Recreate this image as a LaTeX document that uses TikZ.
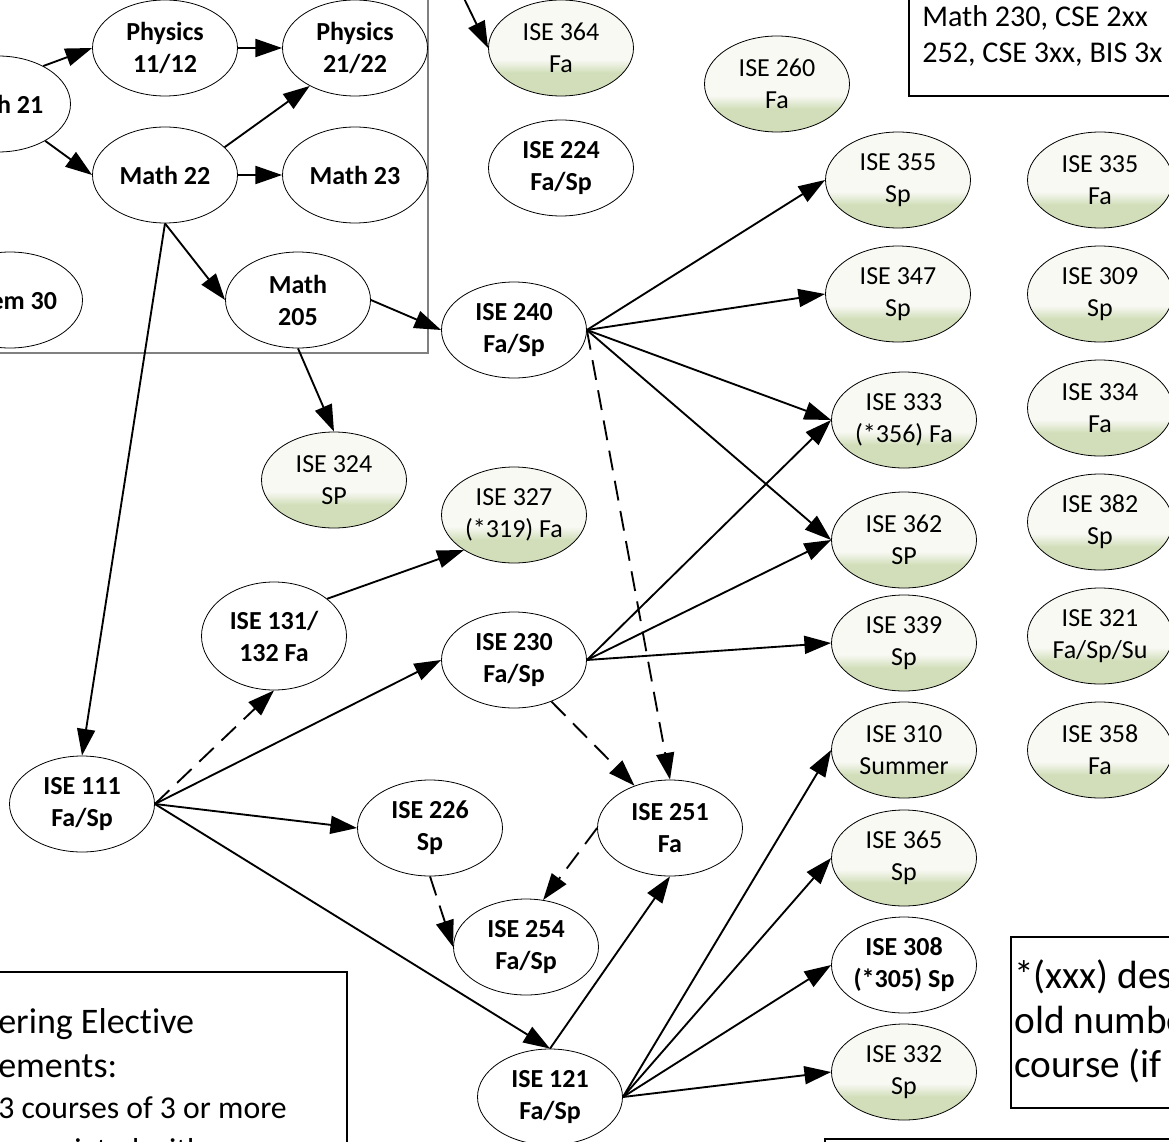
\documentclass[tikz,border=0pt]{standalone}
\usepackage{fontspec}
\setmainfont{Carlito}[Ligatures=NoCommon]
\usetikzlibrary{shapes.geometric,arrows.meta}

\definecolor{elecgreen}{RGB}{209,222,185}
\definecolor{elecwhite}{RGB}{248,249,243}
\pgfdeclareverticalshading{elecshade}{100bp}{color(0bp)=(elecgreen); color(37bp)=(elecgreen); color(44bp)=(elecwhite); color(100bp)=(elecwhite)}

\begin{document}
\begin{tikzpicture}[x=0.75pt,y=0.75pt,yscale=-1,xscale=1,
  oval/.style={ellipse, draw, line width=0.6pt, minimum width=108.75pt, minimum height=72pt, inner sep=0pt, align=center},
  course/.style={oval, fill=white, font=\fontsize{19.5}{24}\selectfont\bfseries},
  elective/.style={oval, shade, shading=elecshade, font=\fontsize{19.5}{24}\selectfont},
  prereq/.style={-{Triangle[length=20pt,width=13.5pt]}, line width=1.4pt},
  optional/.style={prereq, dash pattern=on 15pt off 8pt},
  boxline/.style={anchor=base west, inner sep=0pt}]
\useasboundingbox (0,0) rectangle (1169,1141);
\clip (0,0) rectangle (1169,1141);

%Shape: Rectangle [math block]
\draw [draw=gray, line width=1.2pt] (-60,-60) rectangle (428,353);
%Shape: Rectangle [top right note]
\draw [line width=1.5pt] (909,-60) rectangle (1260,96);
%Shape: Rectangle [old numbers note]
\draw [line width=1.3pt] (1011,937) rectangle (1260,1108);
%Shape: Rectangle [elective requirements]
\draw [line width=1.3pt] (-60,972) rectangle (347,1260);
%Shape: Rectangle [bottom right]
\draw [line width=1.3pt] (825,1139) rectangle (1260,1300);

% Math and science
\node [course] (math21) at (-2,104) {Math 21};
\node [course] (phys1112) at (165,48) {Physics\\11/12};
\node [course] (phys2122) at (355,48) {Physics\\21/22};
\node [course] (math22) at (165,175) {Math 22};
\node [course] (math23) at (355,175) {Math 23};
\node [course] (chem30) at (10,300) {Chem 30};
\node [course] (math205) at (298,300) {Math\\205};

% ISE core
\node [course] (ise224) at (561,168) {ISE 224\\Fa/Sp};
\node [course] (ise240) at (514,330) {ISE 240\\Fa/Sp};
\node [course, minimum height=81pt] (ise131) at (274,636) {ISE 131/\\132 Fa};
\node [course] (ise230) at (514,660) {ISE 230\\Fa/Sp};
\node [course] (ise111) at (82,804) {ISE 111\\Fa/Sp};
\node [course] (ise226) at (430,828) {ISE 226\\Sp};
\node [course] (ise251) at (670,828) {ISE 251\\Fa};
\node [course] (ise254) at (526,947) {ISE 254\\Fa/Sp};
\node [course] (ise121) at (550,1097) {ISE 121\\Fa/Sp};
\node [course] (ise308) at (904,965) {ISE 308\\(*305) Sp};

% Electives
\node [elective] (ise364) at (561,48) {ISE 364\\Fa};
\node [elective] (ise260) at (777,84) {ISE 260\\Fa};
\node [elective] (ise324) at (334,480) {ISE 324\\SP};
\node [elective] (ise327) at (514,515) {ISE 327\\(*319) Fa};
\node [elective] (ise355) at (898,180) {ISE 355\\Sp};
\node [elective] (ise347) at (898,294) {ISE 347\\Sp};
\node [elective] (ise333) at (904,420) {ISE 333\\(*356) Fa};
\node [elective] (ise362) at (904,540) {ISE 362\\SP};
\node [elective] (ise339) at (904,643) {ISE 339\\Sp};
\node [elective] (ise310) at (904,750) {ISE 310\\Summer};
\node [elective] (ise365) at (904,858) {ISE 365\\Sp};
\node [elective] (ise332) at (904,1072) {ISE 332\\Sp};
\node [elective] (ise335) at (1100,180) {ISE 335\\Fa};
\node [elective] (ise309) at (1100,294) {ISE 309\\Sp};
\node [elective] (ise334) at (1100,408) {ISE 334\\Fa};
\node [elective] (ise382) at (1100,522) {ISE 382\\Sp};
\node [elective] (ise321) at (1100,636) {ISE 321\\Fa/Sp/Su};
\node [elective] (ise358) at (1100,750) {ISE 358\\Fa};

% Text Node
\node [boxline, font=\fontsize{22.6}{27}\selectfont] (noteA1) at (922,27) {Math 230, CSE 2xx};
\node [boxline, font=\fontsize{22.6}{27}\selectfont] (noteA2) at (922,63) {252, CSE 3xx, BIS 3x};
\node [boxline, font=\fontsize{29.5}{33}\selectfont] (noteB1) at (1014,988) {*(xxx) des};
\node [boxline, font=\fontsize{29.5}{33}\selectfont] (noteB2) at (1014,1033) {old numbe};
\node [boxline, font=\fontsize{29.5}{33}\selectfont] (noteB3) at (1014,1077) {course (if};
\node [boxline, font=\fontsize{27}{33}\selectfont] (noteC1) at (-2,1033) {ering Elective};
\node [boxline, font=\fontsize{27}{33}\selectfont] (noteC2) at (-2,1077) {ements:};
\node [boxline, font=\fontsize{23.8}{28}\selectfont] (noteC3) at (-2,1118) {3 courses of 3 or more};
\node [boxline, font=\fontsize{23.8}{28}\selectfont] (noteC4) at (4,1160) {associated with a};

\coordinate (offtop) at (442,-47);

%Straight Lines
\draw [prereq] (math21.40) -- (phys1112.west);
\draw [prereq] (math21.-38) -- (math22.west);
\draw [prereq] (phys1112.east) -- (phys2122.west);
\draw [prereq] (math22.25) -- (phys2122.220);
\draw [prereq] (math22.east) -- (math23.west);
\draw [prereq] (math22.south) -- (math205.west);
\draw [prereq] (math22.south) -- (ise111.north);
\draw [prereq] (math205.east) -- (ise240.west);
\draw [prereq] (math205.south) -- (ise324.north);
\draw [prereq] (offtop) -- (ise364.west);

\draw [prereq] (ise240.east) -- (ise355.west);
\draw [prereq] (ise240.east) -- (ise347.west);
\draw [prereq] (ise240.east) -- (ise333.west);
\draw [prereq] (ise240.east) -- (ise362.west);
\draw [optional] (ise240.east) -- (ise251.north);

\draw [prereq] (ise131.35) -- (ise327.215);
\draw [prereq] (ise230.east) -- (ise333.west);
\draw [prereq] (ise230.east) -- (ise362.west);
\draw [prereq] (ise230.east) -- (ise339.west);
\draw [optional] (ise230.-48) -- (ise251.130);

\draw [optional] (ise111.east) -- (ise131.south);
\draw [prereq] (ise111.east) -- (ise230.west);
\draw [prereq] (ise111.east) -- (ise226.west);
\draw [prereq] (ise111.east) -- (ise121.north);

\draw [optional] (ise226.south) -- (ise254.west);
\draw [optional] (ise251.west) -- (ise254.70);
\draw [prereq] (ise121.north) -- (ise251.south);

\draw [prereq] (ise121.east) -- (ise310.west);
\draw [prereq] (ise121.east) -- (ise365.west);
\draw [prereq] (ise121.east) -- (ise308.west);
\draw [prereq] (ise121.east) -- (ise332.west);

\end{tikzpicture}
\end{document}
